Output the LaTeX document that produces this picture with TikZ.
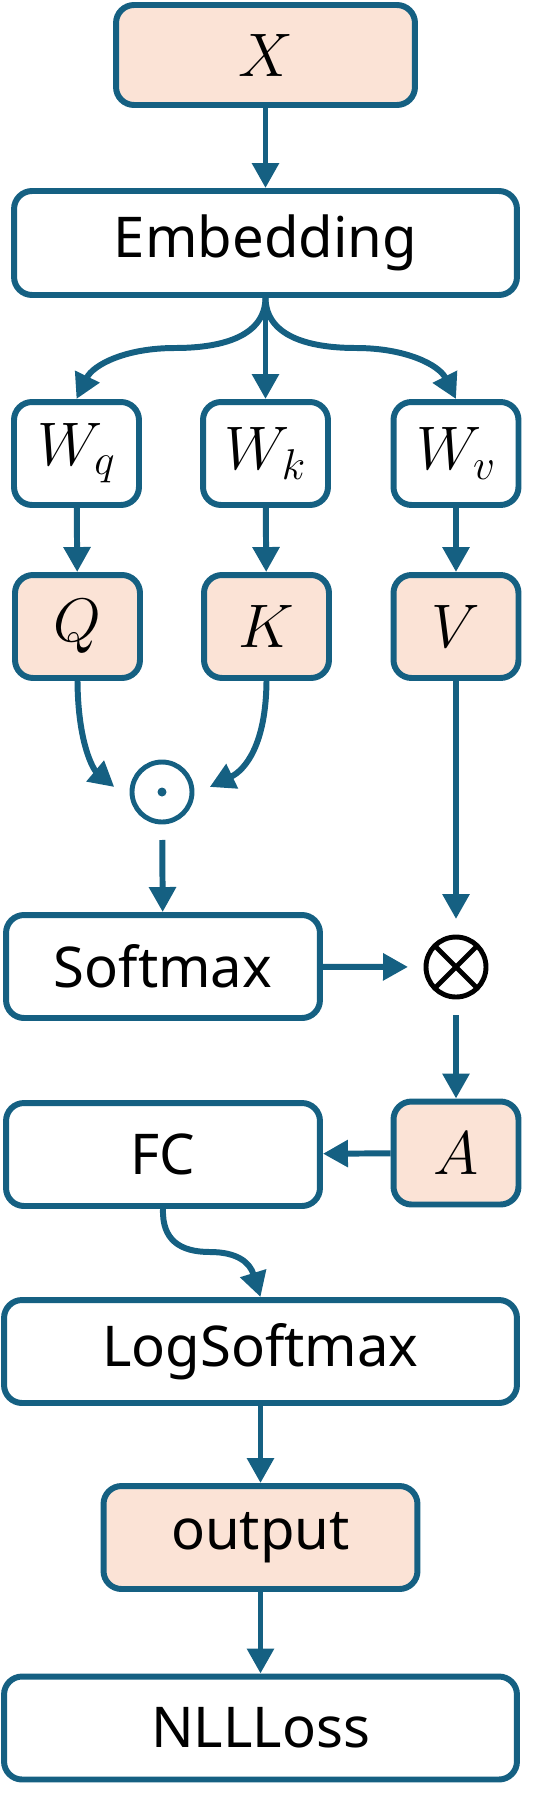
\RequirePackage{fix-cm}
\documentclass[tikz,border=0pt]{standalone}
\usepackage{fontspec}
\setmainfont{Noto Sans}
\usetikzlibrary{arrows.meta}
\definecolor{deepteal}{HTML}{156082}
\definecolor{peach}{HTML}{FBE3D6}
\begin{document}
\begin{tikzpicture}[x=0.02cm, y=-0.02cm, every node/.style={font=\fontsize{32}{38}\selectfont},
  blk/.style={rectangle, draw=deepteal, line width=3.4pt, rounded corners=0.36cm, fill=white, inner sep=0pt},
  var/.style={blk, fill=peach},
  sqbox/.style={minimum width=2.5cm, minimum height=2.06cm},
  widebox/.style={minimum width=10.26cm, minimum height=2.06cm},
  midbox/.style={minimum width=6.28cm, minimum height=2.06cm},
  mathlbl/.style={font=\fontsize{35}{40}\selectfont},
  opcirc/.style={circle, line width=2.8pt, minimum size=1.2cm, inner sep=0pt, outer sep=0.36cm},
  link/.style={draw=deepteal, line width=3.4pt, -{Triangle[length=0.5cm, width=0.52cm]}}]
\useasboundingbox (0,0) rectangle (539,1805);
\node[var, mathlbl, minimum width=5.98cm, minimum height=2cm] (x) at (265.5,55) {$X$};
\node[blk, minimum width=10.06cm, minimum height=2.08cm] (emb) at (265.5,243) {Embedding};
\node[blk, sqbox, mathlbl] (wq) at (76.5,453.5) {$W_q$};
\node[blk, sqbox, mathlbl] (wk) at (265.5,453.5) {$W_k$};
\node[blk, sqbox, mathlbl] (wv) at (456,453.5) {$W_v$};
\node[var, sqbox, mathlbl] (q) at (77.5,626.5) {$Q$};
\node[var, sqbox, mathlbl] (k) at (266.5,626.5) {$K$};
\node[var, sqbox, mathlbl] (v) at (456,626.5) {$V$};
\node[opcirc, draw=deepteal] (od) at (162,792) {};
\fill[deepteal] (od.center) circle (0.09cm);
\node[blk, midbox] (sm) at (163,966.5) {Softmax};
\node[opcirc, draw=black, path picture={
  \draw[black, line width=2.8pt] (path picture bounding box.north west) -- (path picture bounding box.south east)
    (path picture bounding box.north east) -- (path picture bounding box.south west);}] (ot) at (456,967) {};
\node[blk, midbox] (fc) at (163,1154.5) {FC};
\node[var, sqbox, mathlbl] (a) at (456,1153) {$A$};
\node[blk, widebox] (ls) at (260.5,1351.5) {LogSoftmax};
\node[var, midbox] (out) at (260.5,1537.5) {output};
\node[blk, widebox] (nll) at (260.5,1728) {NLLLoss};
\draw[link] (x) -- (emb);
\draw[link] (emb.south) .. controls (265,335) and (225,348) .. (175,348) .. controls (125,348) and (93,365) .. (wq.north);
\draw[link] (emb) -- (wk);
\draw[link] (emb.south) .. controls (266,335) and (306,348) .. (356,348) .. controls (406,348) and (439,365) .. (wv.north);
\draw[link] (wq) -- (q);
\draw[link] (wk) -- (k);
\draw[link] (wv) -- (v);
\draw[link] (q.south) .. controls (78,745) and (94,770) .. (od.174);
\draw[link] (k.south) .. controls (266,745) and (245,770) .. (od.6);
\draw[link] (od) -- (sm);
\draw[link] (v) -- (ot);
\draw[link] (sm) -- (ot);
\draw[link] (ot) -- (a);
\draw[link] (a) -- (fc);
\draw[link] (fc.south) .. controls (162,1240) and (180,1252) .. (210,1252) .. controls (238,1252) and (250,1263) .. (ls.north);
\draw[link] (ls) -- (out);
\draw[link] (out) -- (nll);
\end{tikzpicture}
\end{document}
